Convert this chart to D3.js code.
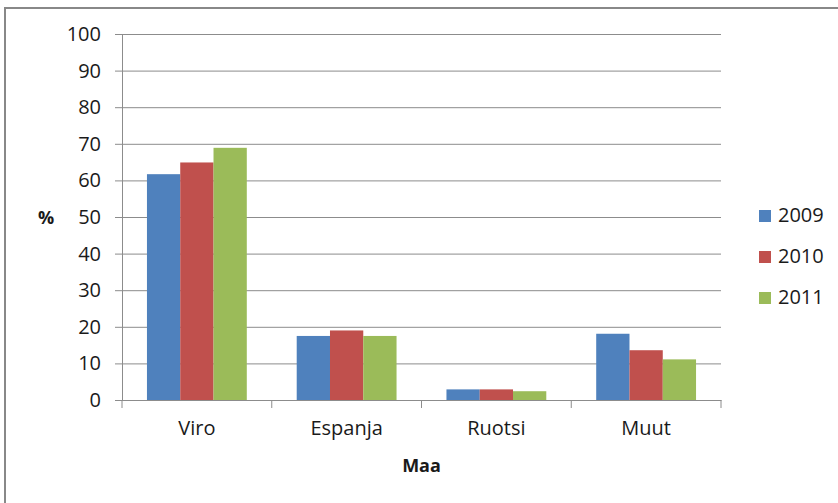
<!DOCTYPE html>
<html>
  <head>
    <meta charset="utf-8">
    <title>Maa</title>
    <style>
      body { margin: 0; background: #fff; }
      text { font-family: "Open Sans", "Liberation Sans", Arial, sans-serif; fill: #1a1a1a; }
      .tick text { font-size: 20px; }
      .grid line { stroke: #8c8c8c; }
    </style>
  </head>
  <body>
    <div id="chart"></div>
    <script src="https://cdn.jsdelivr.net/npm/d3@7"></script>
    <script>
      (function(d3) {
        'use strict';

        var categories = ['Viro', 'Espanja', 'Ruotsi', 'Muut'];
        var years = ['2009', '2010', '2011'];
        var values2009 = [61.7, 17.5, 2.9, 18.1];
        var values2010 = [64.9, 19.0, 2.9, 13.6];
        var values2011 = [68.9, 17.5, 2.4, 11.1];
        var yTicks = [0, 10, 20, 30, 40, 50, 60, 70, 80, 90, 100];
        var colors = ['#4f81bd', '#c0504d', '#9bbb59'];

        var series = [values2009, values2010, values2011];

        var width = 838;
        var height = 503;
        var left = 122, right = 721, top = 34, bottom = 400;

        var svg = d3.select('#chart')
          .append('svg')
          .attr('width', width)
          .attr('height', height);

        // outer frame
        svg.append('rect')
          .attr('x', 5).attr('y', 8)
          .attr('width', 850).attr('height', 520)
          .attr('fill', 'none')
          .attr('stroke', '#888')
          .attr('stroke-width', 2);

        var x = d3.scaleBand()
          .domain(categories)
          .range([left, right]);

        // gap width 150% -> bars take 3/4.5 of band
        var x1 = d3.scaleBand()
          .domain(years)
          .range([0, x.bandwidth()])
          .paddingOuter(0.75)
          .paddingInner(0);

        var y = d3.scaleLinear()
          .domain([0, 100])
          .range([bottom, top]);

        // gridlines
        svg.append('g')
          .attr('class', 'grid')
          .attr('transform', 'translate(' + left + ',0)')
          .call(d3.axisLeft(y).tickValues(yTicks).tickSize(-(right - left)).tickFormat(''))
          .call(function(g) { g.select('.domain').remove(); });

        var yAxis = svg.append('g')
          .attr('transform', 'translate(' + left + ',0)')
          .call(d3.axisLeft(y).tickValues(yTicks).tickSize(7).tickPadding(14));
        yAxis.selectAll('line, path').attr('stroke', '#8c8c8c');

        var groups = svg.selectAll('.cat')
          .data(categories)
          .enter().append('g')
          .attr('class', 'cat')
          .attr('transform', function(d) { return 'translate(' + x(d) + ',0)'; });

        groups.selectAll('rect')
          .data(function(d, i) {
            return years.map(function(yr, j) { return { year: yr, value: series[j][i], j: j }; });
          })
          .enter().append('rect')
          .attr('x', function(d) { return x1(d.year); })
          .attr('width', x1.bandwidth())
          .attr('y', function(d) { return y(d.value); })
          .attr('height', function(d) { return y(0) - y(d.value); })
          .attr('fill', function(d) { return colors[d.j]; });

        var xAxis = svg.append('g')
          .attr('transform', 'translate(0,' + bottom + ')')
          .call(d3.axisBottom(x).tickSize(0).tickPadding(21));
        xAxis.select('.domain').attr('stroke', '#8c8c8c');

        // category separator ticks
        svg.append('g').selectAll('line')
          .data(categories.concat(['end']))
          .enter().append('line')
          .attr('x1', function(d, i) { return i < categories.length ? x(d) : right; })
          .attr('x2', function(d, i) { return i < categories.length ? x(d) : right; })
          .attr('y1', bottom)
          .attr('y2', bottom + 8)
          .attr('stroke', '#8c8c8c');

        svg.append('text')
          .attr('x', (left + right) / 2)
          .attr('y', 472)
          .attr('text-anchor', 'middle')
          .style('font-size', '18px')
          .style('font-weight', 'bold')
          .text('Maa');

        svg.append('text')
          .attr('x', 46)
          .attr('y', 224)
          .attr('text-anchor', 'middle')
          .style('font-size', '18px')
          .style('font-weight', 'bold')
          .text('%');

        var legend = svg.selectAll('.legend')
          .data(years)
          .enter().append('g')
          .attr('class', 'legend')
          .attr('transform', function(d, i) { return 'translate(759,' + (210 + i * 41) + ')'; });

        legend.append('rect')
          .attr('width', 12)
          .attr('height', 12)
          .attr('fill', function(d, i) { return colors[i]; });

        legend.append('text')
          .attr('x', 19)
          .attr('y', 12)
          .style('font-size', '20px')
          .text(function(d) { return d; });

      })(window.d3);
    </script>
  </body>
</html>
